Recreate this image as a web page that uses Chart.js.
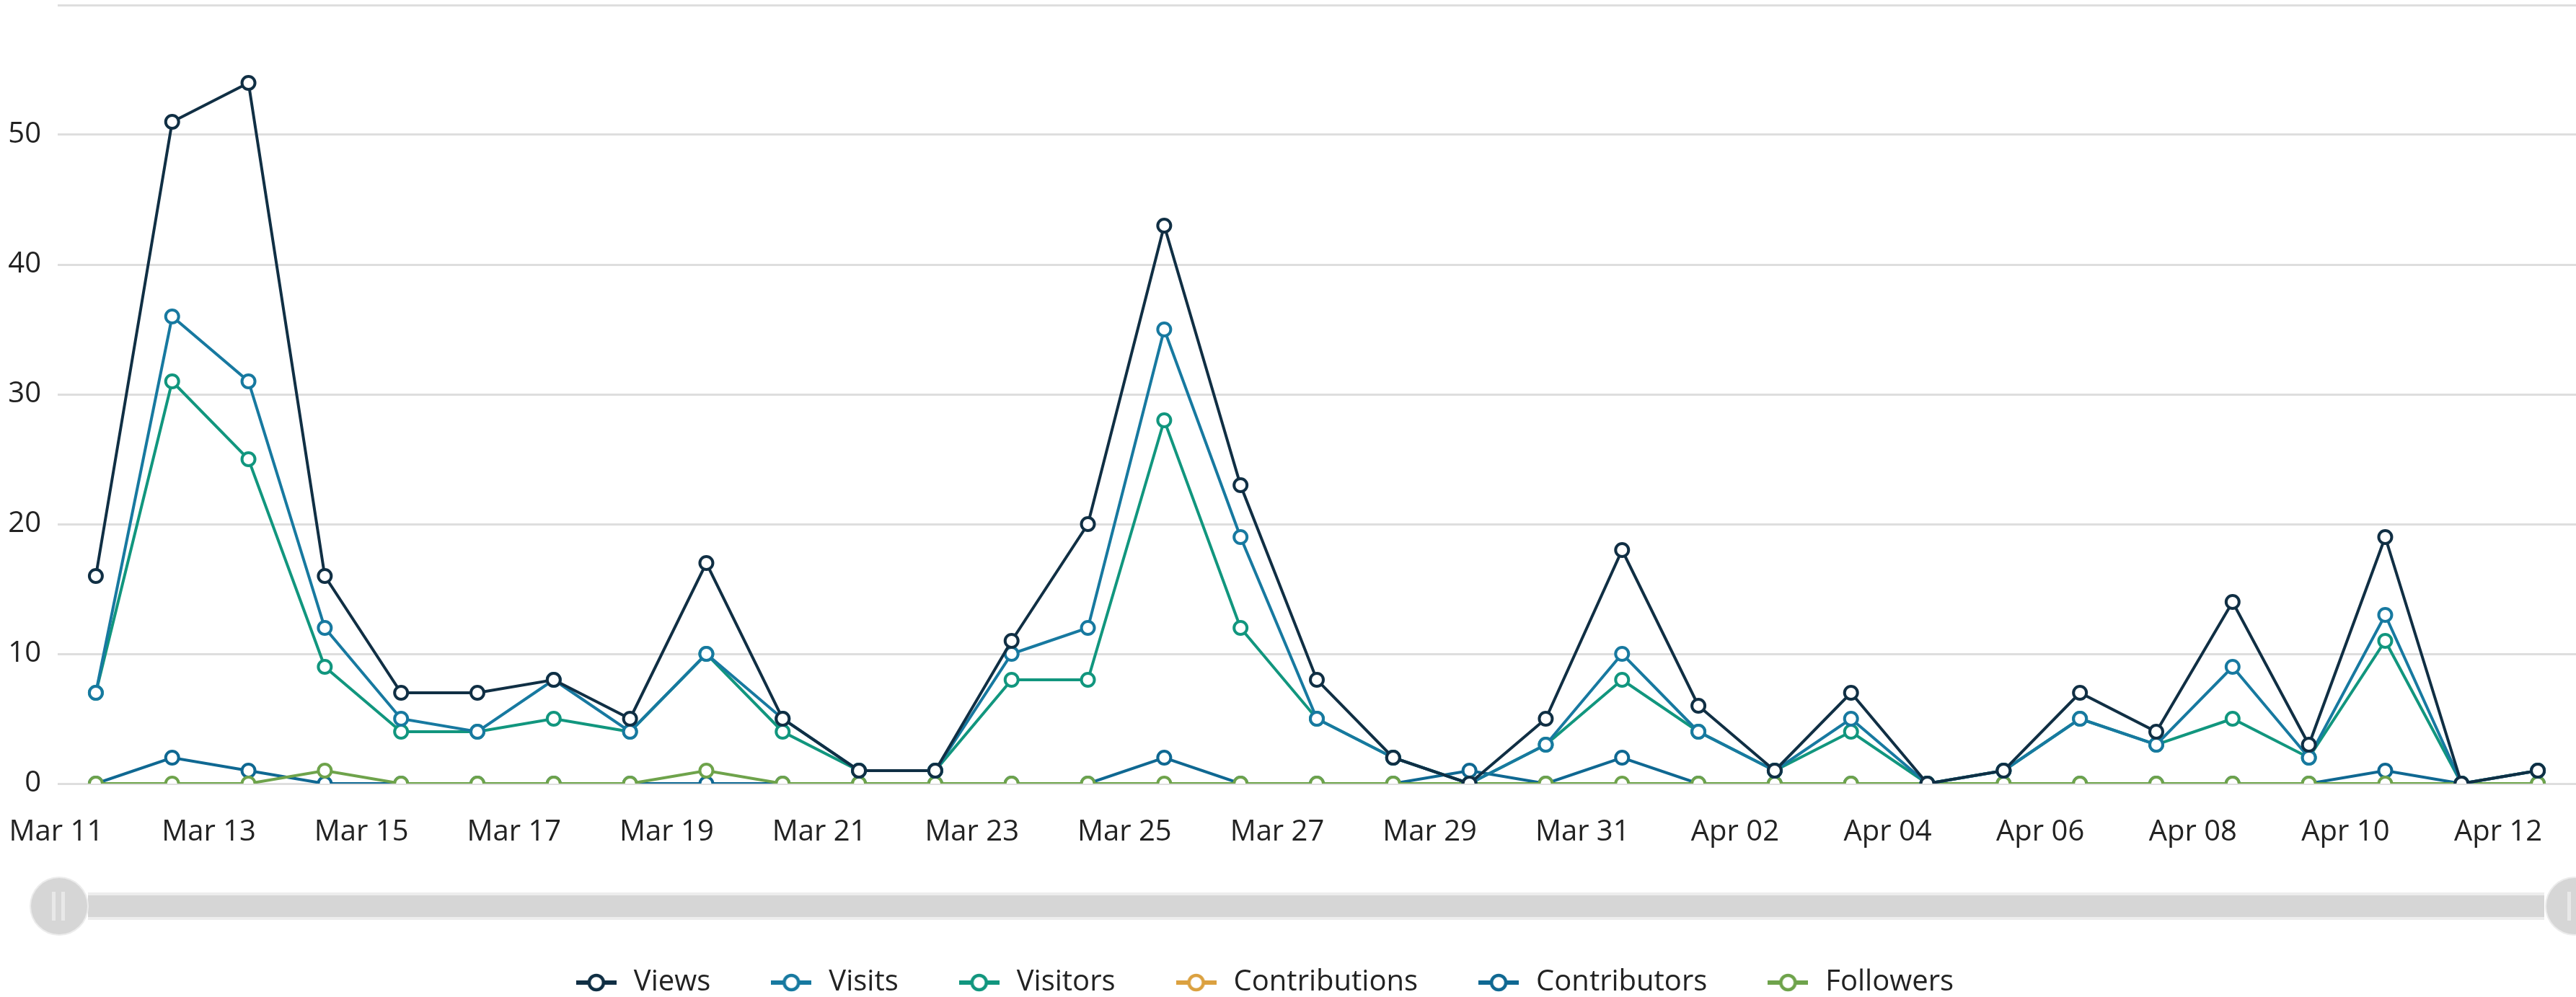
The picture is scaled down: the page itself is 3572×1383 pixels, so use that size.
<!DOCTYPE html>
<html>
<head>
<meta charset="utf-8">
<title>Traffic</title>
<script src="https://cdn.jsdelivr.net/npm/chart.js@4.4.0/dist/chart.umd.min.js"></script>
<style>
  html, body { margin: 0; padding: 0; background: #fff; overflow: hidden; }
  body { width: 3572px; height: 1383px; position: relative; }
  /* canvas is shifted a bit left so the legend centre lands where the original has it */
  #wrap { position: absolute; left: -68px; top: 0; width: 3640px; height: 1383px; }
  .track { position: absolute; left: 122px; width: 3406px; top: 1238px; height: 30px;
           background: #d6d6d6; border-top: 4px solid #ededed; border-bottom: 4px solid #ededed; }
  .knob { position: absolute; top: 1218px; width: 78px; height: 78px; border-radius: 50%;
          background: #d6d6d6; box-shadow: 0 0 0 2px #ececec; }
  .knob::before, .knob::after { content: ''; position: absolute; top: 19px; width: 5px; height: 40px; background: #e8e8e8; }
  .knob::before { left: 29px; }
  .knob::after { left: 42px; }
</style>
</head>
<body>
<div id="wrap"><canvas id="chart"></canvas></div>
<div class="track"></div>
<div class="knob" style="left:43px"></div>
<div class="knob" style="left:3531px"></div>
<script>
const days = ['Mar 11', 'Mar 12', 'Mar 13', 'Mar 14', 'Mar 15', 'Mar 16', 'Mar 17', 'Mar 18', 'Mar 19', 'Mar 20',
  'Mar 21', 'Mar 22', 'Mar 23', 'Mar 24', 'Mar 25', 'Mar 26', 'Mar 27', 'Mar 28', 'Mar 29', 'Mar 30', 'Mar 31',
  'Apr 01', 'Apr 02', 'Apr 03', 'Apr 04', 'Apr 05', 'Apr 06', 'Apr 07', 'Apr 08', 'Apr 09', 'Apr 10', 'Apr 11', 'Apr 12'];

const views         = [16, 51, 54, 16, 7, 7, 8, 5, 17, 5, 1, 1, 11, 20, 43, 23, 8, 2, 0, 5, 18, 6, 1, 7, 0, 1, 7, 4, 14, 3, 19, 0, 1];
const visits        = [7, 36, 31, 12, 5, 4, 8, 4, 10, 5, 1, 1, 10, 12, 35, 19, 5, 2, 0, 3, 10, 4, 1, 5, 0, 1, 5, 3, 9, 2, 13, 0, 1];
const visitors      = [7, 31, 25, 9, 4, 4, 5, 4, 10, 4, 1, 1, 8, 8, 28, 12, 5, 2, 0, 3, 8, 4, 1, 4, 0, 1, 5, 3, 5, 2, 11, 0, 1];
const contributions = []; // nothing of this series is drawn in the original, only its legend entry
const contributors  = [0, 2, 1, 0, 0, 0, 0, 0, 0, 0, 0, 0, 0, 0, 2, 0, 0, 0, 1, 0, 2, 0, 0, 0, 0, 0, 0, 0, 0, 0, 1, 0, 0];
const followers     = [0, 0, 0, 1, 0, 0, 0, 0, 1, 0, 0, 0, 0, 0, 0, 0, 0, 0, 0, 0, 0, 0, 0, 0, 0, 0, 0, 0, 0, 0, 0, 0, 0];

const yTicks = [0, 10, 20, 30, 40, 50, 60];

const font = { family: '"Open Sans", "Noto Sans", sans-serif', size: 40 };
const textColor = '#222';

// order: lower number is painted on top
function series(label, data, color, order) {
  return {
    label: label,
    data: data,
    order: order,
    borderColor: color,
    backgroundColor: '#fff',
    borderWidth: 4,
    pointRadius: 9,
    pointBorderWidth: 4,
    pointBackgroundColor: '#fff',
    pointBorderColor: color,
    tension: 0
  };
}

// little "line with a ring" picture for the legend
function legendIcon(color) {
  const c = document.createElement('canvas');
  c.width = 56; c.height = 30;
  const g = c.getContext('2d');
  g.strokeStyle = color;
  g.lineWidth = 6;
  g.beginPath(); g.moveTo(0, 15); g.lineTo(56, 15); g.stroke();
  g.beginPath(); g.arc(28, 15, 10, 0, Math.PI * 2);
  g.fillStyle = '#fff'; g.fill();
  g.lineWidth = 4.5; g.stroke();
  return c;
}

const datasets = [
  series('Views', views, '#102f44', 1),
  series('Visits', visits, '#1779a0', 2),
  series('Visitors', visitors, '#11967e', 3),
  series('Contributions', contributions, '#dba140', 6),
  series('Contributors', contributors, '#0f6892', 5),
  series('Followers', followers, '#6ea34b', 4)
];

const ctx = document.getElementById('chart').getContext('2d');
new Chart(ctx, {
  type: 'line',
  data: { labels: days, datasets: datasets },
  options: {
    responsive: true,
    maintainAspectRatio: false,
    animation: false,
    layout: { autoPadding: false, padding: { top: 7, left: 0, right: 0, bottom: 0 } },
    scales: {
      x: {
        offset: true,
        grid: { display: false, drawTicks: false },
        border: { display: false },
        ticks: {
          autoSkip: false,
          maxRotation: 0,
          labelOffset: -55,
          padding: 44,
          color: textColor,
          font: font,
          callback: (v, i) => (i % 2 === 0 ? days[i] : '')
        },
        afterFit: s => { s.height = 176; s.paddingLeft = 0; s.paddingRight = 0; }
      },
      y: {
        min: yTicks[0],
        max: yTicks[yTicks.length - 1],
        grid: { color: '#dedede', lineWidth: 3, drawTicks: false },
        border: { display: false },
        afterBuildTicks: s => { s.ticks = yTicks.map(v => ({ value: v })); },
        ticks: {
          padding: 23,
          color: textColor,
          font: font,
          callback: v => (v === 60 ? '' : v)
        },
        afterFit: s => { s.width = 148; s.paddingTop = 0; s.paddingBottom = 0; }
      }
    },
    plugins: {
      tooltip: { enabled: false },
      legend: {
        position: 'bottom',
        maxHeight: 120,
        labels: {
          usePointStyle: true,
          pointStyleWidth: 64,
          padding: 80,
          color: textColor,
          font: font,
          generateLabels: chart => {
            const items = Chart.defaults.plugins.legend.labels.generateLabels(chart);
            items.sort((a, b) => a.datasetIndex - b.datasetIndex);
            items.forEach(it => { it.pointStyle = legendIcon(chart.data.datasets[it.datasetIndex].borderColor); });
            return items;
          }
        }
      }
    }
  }
});
</script>
</body>
</html>
